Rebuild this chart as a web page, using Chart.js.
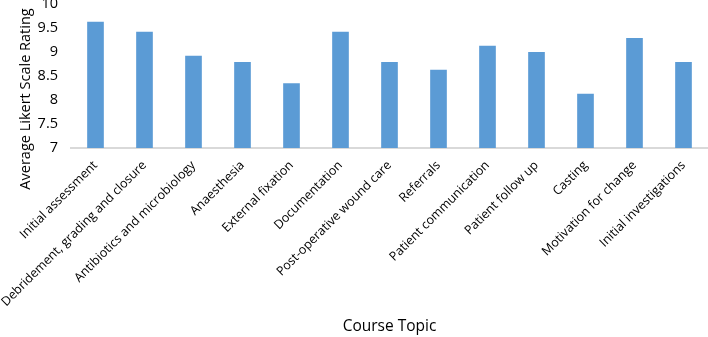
<!DOCTYPE html>
<html>
<head>
<meta charset="utf-8">
<script src="https://cdn.jsdelivr.net/npm/chart.js@4"></script>
<style>
  html, body { margin: 0; padding: 0; background: #fff; }
  #wrap { width: 708px; height: 337px; position: relative; }
</style>
</head>
<body>
<div id="wrap"><canvas id="chart"></canvas></div>
<script>
// course topics along the x axis
const topics = [
  "Initial assessment",
  "Debridement, grading and closure",
  "Antibiotics and microbiology",
  "Anaesthesia",
  "External fixation",
  "Documentation",
  "Post-operative wound care",
  "Referrals",
  "Patient communication",
  "Patient follow up",
  "Casting",
  "Motivation for change",
  "Initial investigations"
];

// average likert rating per topic
const ratings = [9.63, 9.42, 8.92, 8.79, 8.35, 9.42, 8.79, 8.63, 9.13, 9.0, 8.13, 9.29, 8.79];

const yMin = 7;
const yMax = 10;
const yStep = 0.5;
const yTitle = 'Average Likert Scale Rating';
const xTitle = 'Course Topic';

const fontFamily = "'Open Sans', 'Noto Sans', sans-serif";

// y title drawn by hand so it can sit a bit lower than the plot centre, like the original
const yTitlePlugin = {
  id: 'yTitle',
  afterDraw(chart) {
    const c = chart.ctx;
    c.save();
    c.translate(26, 99);
    c.rotate(-Math.PI / 2);
    c.font = '14.5px ' + fontFamily;
    c.fillStyle = '#000';
    c.textAlign = 'center';
    c.textBaseline = 'middle';
    c.fillText(yTitle, 0, 0);
    c.restore();
  }
};

const ctx = document.getElementById('chart').getContext('2d');
const chart = new Chart(ctx, {
  type: 'bar',
  data: {
    labels: topics,
    datasets: [{
      data: ratings,
      backgroundColor: '#5b9bd5',
      borderWidth: 0,
      categoryPercentage: 1,
      barPercentage: 0.34
    }]
  },
  plugins: [yTitlePlugin],
  options: {
    responsive: true,
    maintainAspectRatio: false,
    animation: false,
    layout: { padding: 0 },
    plugins: {
      legend: { display: false },
      tooltip: { enabled: false }
    },
    scales: {
      x: {
        grid: { display: false },
        border: { display: true, color: '#d9d9d9', width: 2 },
        ticks: {
          color: '#000',
          font: { family: fontFamily, size: 12.5 },
          maxRotation: 45,
          minRotation: 45,
          autoSkip: false,
          padding: 2
        },
        title: {
          display: true,
          text: xTitle,
          color: '#000',
          font: { family: fontFamily, size: 15.5 },
          padding: { top: 0, bottom: 1 }
        },
        afterFit: (scale) => { scale.height = 189; }
      },
      y: {
        min: yMin,
        max: yMax,
        grid: { display: false },
        border: { display: false },
        ticks: {
          stepSize: yStep,
          color: '#000',
          font: { family: fontFamily, size: 14.5 },
          padding: 5,
          callback: (v) => String(v)
        },
        afterFit: (scale) => { scale.width = 71; scale.paddingTop = 4; }
      }
    }
  }
});
</script>
</body>
</html>
